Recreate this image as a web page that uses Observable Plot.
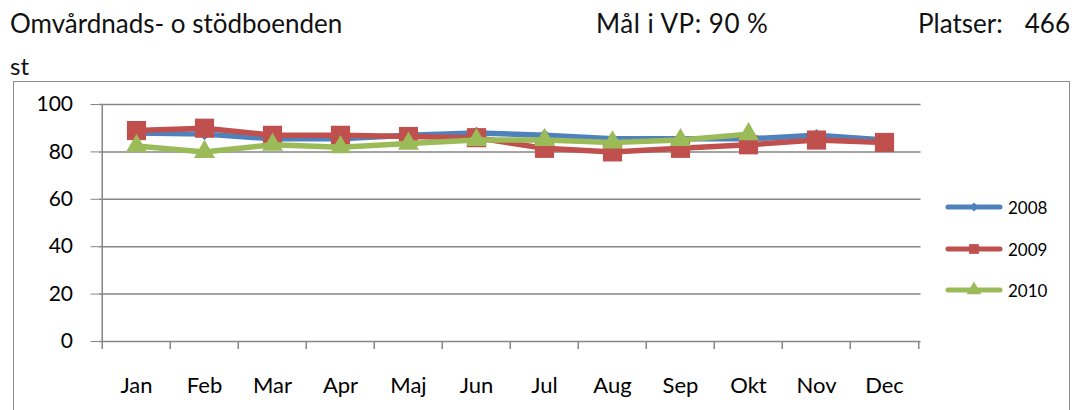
<!DOCTYPE html>
<html>
<head>
<meta charset="utf-8">
<script src="https://cdn.jsdelivr.net/npm/d3@7"></script>
<script src="https://cdn.jsdelivr.net/npm/@observablehq/plot@0.6"></script>
<style>
  html, body { margin: 0; padding: 0; background: #fff; }
  body { width: 1079px; height: 410px; overflow: hidden; position: relative; font-family: Lato, "Noto Sans", sans-serif; }
  .hdr { position: absolute; line-height: 1; color: #111; white-space: pre; }
  #frame { position: absolute; left: 13px; top: 81px; width: 1057px; height: 400px; border: 1.5px solid #8a8a8a; box-sizing: border-box; }
  #chart { position: absolute; left: 0; top: 80px; }
  .leg { position: absolute; display: flex; align-items: center; font-size: 17px; line-height: 1; color: #000; }
  .leg svg { display: block; margin-right: 5px; }
</style>
</head>
<body>
<div id="frame"></div>
<div class="hdr" style="left:10px; top:10px; font-size:26px;">Omvårdnads- o stödboenden</div>
<div class="hdr" style="left:596px; top:10px; font-size:26px; letter-spacing:0.5px;">Mål i VP: 90 %</div>
<div class="hdr" style="left:918px; top:10px; font-size:26px;">Platser:</div>
<div class="hdr" style="right:9px; top:10px; font-size:26px;">466</div>
<div class="hdr" style="left:10px; top:54px; font-size:24px;">st</div>
<div id="chart"></div>
<div id="legend"></div>
<script>
const months = ["Jan","Feb","Mar","Apr","Maj","Jun","Jul","Aug","Sep","Okt","Nov","Dec"];
const v2008 = [88, 87.5, 85.5, 85.5, 87, 88, 87, 85.5, 85.5, 85.5, 87, 85];
const v2009 = [89, 90, 87, 87, 86.5, 86, 81.5, 80, 81.5, 83, 85, 84];
const v2010 = [82.5, 80, 83, 82, 83.5, 85, 85, 84, 85, 87.5, null, null];
const years = ["2008", "2009", "2010"];
const colors = ["#4F81BD", "#C0504D", "#9BBB59"];
const symbols = ["diamond2", "square", "triangle"];
const radii = [5.6, 10.8, 7.8];
const yTicks = [0, 20, 40, 60, 80, 100];

const seriesValues = [v2008, v2009, v2010];
const series = years.map((yr, k) => ({
  year: yr,
  color: colors[k],
  symbol: symbols[k],
  r: radii[k],
  rows: months.map((m, i) => ({month: m, value: seriesValues[k][i]}))
}));

const gray = "#868686";
const halfStep = 34.25;

const marks = [
  Plot.gridY(yTicks, {stroke: gray, strokeOpacity: 1, strokeWidth: 1.5}),
  Plot.ruleX([months[0]], {dx: -halfStep, y1: -3.4, y2: 100, stroke: gray, strokeWidth: 1.5}),
  Plot.ruleX(months.slice(1), {dx: -halfStep, y1: -3.4, y2: 0, stroke: gray, strokeWidth: 1.5}),
  Plot.ruleX([months[months.length - 1]], {dx: halfStep, y1: -3.4, y2: 0, stroke: gray, strokeWidth: 1.5}),
  Plot.axisY({ticks: yTicks, tickSize: 8, tickPadding: 18, stroke: gray, fill: "#000", fontSize: 21, label: null, tickFormat: d => String(d)}),
  Plot.axisX({tickSize: 0, tickPadding: 36, fill: "#000", fontSize: 22, label: null})
];
for (const s of series) {
  marks.push(Plot.line(s.rows, {x: "month", y: "value", stroke: s.color, strokeWidth: 5.5, strokeLinejoin: "round", strokeLinecap: "round"}));
  marks.push(Plot.dot(s.rows.filter(d => d.value != null), {x: "month", y: "value", symbol: s.symbol, r: s.r, fill: s.color, stroke: "none"}));
}

const chart = Plot.plot({
  width: 1079,
  height: 330,
  marginTop: 24,
  marginBottom: 69,
  marginLeft: 98.5,
  marginRight: 158.5,
  style: {fontFamily: "Lato, 'Noto Sans', sans-serif", fontSize: "21px", background: "transparent", overflow: "visible"},
  x: {type: "point", domain: months, padding: 0.5, label: null, axis: null},
  y: {domain: [0, 100], label: null, axis: null},
  marks
});
document.getElementById("chart").appendChild(chart);

// legend
const legendTops = [207, 249, 290];
const legSymbolR = [4, 5.5, 5.5];
const legend = document.getElementById("legend");
series.forEach((s, k) => {
  const item = document.createElement("div");
  item.className = "leg";
  item.style.left = "945px";
  item.style.top = (legendTops[k] - 10) + "px";
  const svg = d3.create("svg").attr("width", 58).attr("height", 20);
  svg.append("line").attr("x1", 3).attr("x2", 55).attr("y1", 10).attr("y2", 10)
    .attr("stroke", s.color).attr("stroke-width", 5).attr("stroke-linecap", "round");
  const sym = {diamond2: d3.symbolDiamond2, square: d3.symbolSquare, triangle: d3.symbolTriangle}[s.symbol];
  svg.append("path").attr("transform", "translate(29,10)")
    .attr("d", d3.symbol(sym, Math.PI * legSymbolR[k] * legSymbolR[k])())
    .attr("fill", s.color);
  item.appendChild(svg.node());
  const t = document.createElement("span");
  t.textContent = s.year;
  item.appendChild(t);
  legend.appendChild(item);
});
</script>
</body>
</html>
